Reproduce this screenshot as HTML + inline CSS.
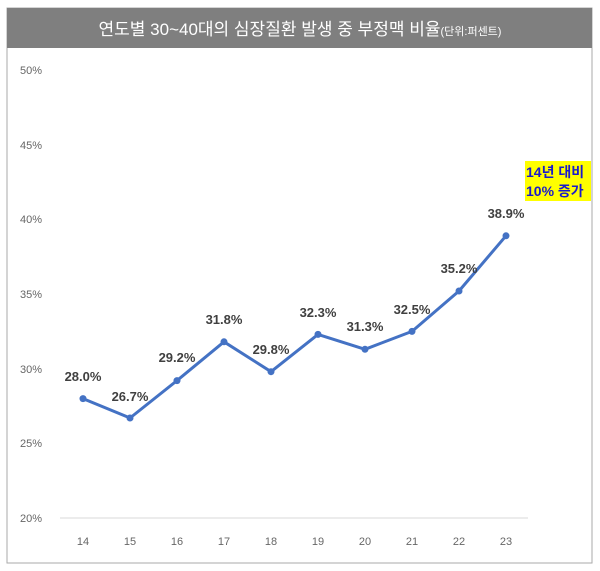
<!DOCTYPE html>
<html><head><meta charset="utf-8"><style>
body{margin:0;background:#fff;width:600px;height:571px;overflow:hidden;font-family:"Liberation Sans","Noto Sans CJK KR",sans-serif}
</style></head><body>
<svg width="600" height="571" xmlns="http://www.w3.org/2000/svg" style="position:absolute;left:0;top:0">
<rect x="7" y="8" width="585" height="555" fill="#fff" stroke="#aaa" stroke-width="1"/>
<rect x="7" y="8" width="585" height="40" fill="#7f7f7f"/>
<text x="300" y="35" text-anchor="middle" fill="#fff" font-size="17" font-family="Liberation Sans,Noto Sans CJK KR,sans-serif">연도별 30~40대의 심장질환 발생 중 부정맥 비율<tspan font-size="11">(단위:퍼센트)</tspan></text>
<g font-size="11" fill="#666">
<text x="20" y="74">50%</text><text x="20" y="149">45%</text><text x="20" y="223">40%</text><text x="20" y="298">35%</text><text x="20" y="373">30%</text><text x="20" y="447">25%</text><text x="20" y="522">20%</text>
</g>
<line x1="60" y1="518" x2="528" y2="518" stroke="#d9d9d9"/>
<g font-size="11" fill="#666" text-anchor="middle">
<text x="83" y="545">14</text><text x="130" y="545">15</text><text x="177" y="545">16</text><text x="224" y="545">17</text><text x="271" y="545">18</text><text x="318" y="545">19</text><text x="365" y="545">20</text><text x="412" y="545">21</text><text x="459" y="545">22</text><text x="506" y="545">23</text>
</g>
<polyline fill="none" stroke="#4472c4" stroke-width="3" stroke-linejoin="round" points="83,398.6 130,418 177,380.6 224,341.8 271,371.7 318,334.4 365,349.3 412,331.4 459,291 506,235.8"/>
<g fill="#4472c4">
<circle cx="83" cy="398.6" r="3.5"/><circle cx="130" cy="418" r="3.5"/><circle cx="177" cy="380.6" r="3.5"/><circle cx="224" cy="341.8" r="3.5"/><circle cx="271" cy="371.7" r="3.5"/><circle cx="318" cy="334.4" r="3.5"/><circle cx="365" cy="349.3" r="3.5"/><circle cx="412" cy="331.4" r="3.5"/><circle cx="459" cy="291" r="3.5"/><circle cx="506" cy="235.8" r="3.5"/>
</g>
<g font-size="13" fill="#404040" text-anchor="middle" font-weight="bold">
<text x="83" y="381">28.0%</text><text x="130" y="401">26.7%</text><text x="177" y="362">29.2%</text><text x="224" y="324">31.8%</text><text x="271" y="354">29.8%</text><text x="318" y="317">32.3%</text><text x="365" y="331">31.3%</text><text x="412" y="314">32.5%</text><text x="459" y="273">35.2%</text><text x="506" y="218">38.9%</text>
</g>
<rect x="525" y="161" width="66" height="40" fill="#ffff00"/>
<g font-size="14" fill="#1a1acc" font-weight="bold">
<text x="526" y="177">14년 대비</text><text x="526" y="196">10% 증가</text>
</g>
</svg>
</body></html>
